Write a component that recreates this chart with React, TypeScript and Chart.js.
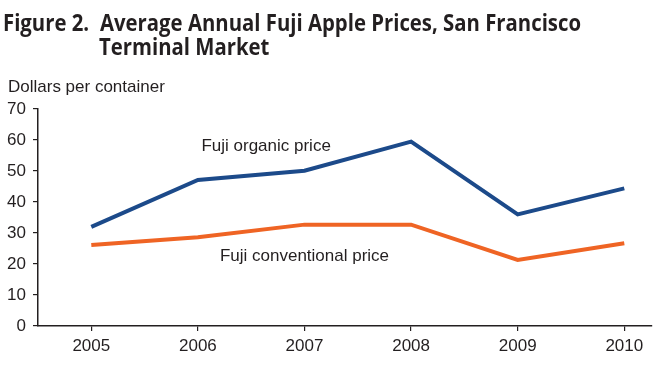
import React, { useEffect, useRef } from "react";
import { Chart, registerables } from "chart.js";

Chart.register(...registerables);

const years = [2005, 2006, 2007, 2008, 2009, 2010];
const organicPrice = [32.0, 47.1, 50.1, 59.5, 36.0, 44.4];
const conventionalPrice = [26.1, 28.6, 32.7, 32.7, 21.3, 26.7];
const yTicks = [0, 10, 20, 30, 40, 50, 60, 70];

const titleLine1a = "Figure 2.";
const titleLine1b = "Average Annual Fuji Apple Prices, San Francisco";
const titleLine2 = "Terminal Market";
const yAxisTitle = "Dollars per container";
const organicLabel = { text: "Fuji organic price", x: 2006.64, y: 58.1 };
const conventionalLabel = { text: "Fuji conventional price", x: 2007.0, y: 22.4 };

const INK = "#231f20";
const BLUE = "#1c4a8a";
const ORANGE = "#ef6424";

const textPlugin = {
  id: "textPlugin",
  afterDraw(chart: any) {
    const ctx = chart.ctx;
    const xs = chart.scales.x;
    const ys = chart.scales.y;
    ctx.save();
    // Title
    ctx.fillStyle = INK;
    ctx.textBaseline = "alphabetic";
    ctx.textAlign = "left";
    ctx.font = "bold 22.5px 'Open Sans'";
    const w1 = ctx.measureText(titleLine1b).width;
    const sx = 481 / w1;
    const drawScaled = (t: string, x: number, y: number) => {
      ctx.save();
      ctx.translate(x, y);
      ctx.scale(sx, 1);
      ctx.fillText(t, 0, 0);
      ctx.restore();
    };
    drawScaled(titleLine1a, 3, 31);
    drawScaled(titleLine1b, 100, 31);
    drawScaled(titleLine2, 99, 55);

    // Y axis title
    ctx.font = "17px 'Liberation Sans', Arial, sans-serif";
    ctx.textBaseline = "middle";
    ctx.fillText(yAxisTitle, 8, 87);

    // Series labels
    ctx.textAlign = "center";
    for (const lab of [organicLabel, conventionalLabel]) {
      ctx.fillText(lab.text, xs.getPixelForValue(lab.x), ys.getPixelForValue(lab.y));
    }
    ctx.restore();
  },
};

export default function App() {
  const ref = useRef<HTMLCanvasElement | null>(null);
  useEffect(() => {
    if (!ref.current) return;
    const chart = new Chart(ref.current, {
      type: "line",
      data: {
        datasets: [
          {
            label: "Fuji organic price",
            data: years.map((y, i) => ({ x: y, y: organicPrice[i] })),
            borderColor: BLUE,
            borderWidth: 4,
            pointRadius: 0,
            tension: 0,
            fill: false,
          },
          {
            label: "Fuji conventional price",
            data: years.map((y, i) => ({ x: y, y: conventionalPrice[i] })),
            borderColor: ORANGE,
            borderWidth: 4,
            pointRadius: 0,
            tension: 0,
            fill: false,
          },
        ],
      },
      options: {
        responsive: false,
        animation: false,
        layout: { padding: { top: 109, right: 1, left: 0, bottom: 0 } },
        plugins: {
          legend: { display: false },
          tooltip: { enabled: false },
          title: { display: false },
        },
        scales: {
          x: {
            type: "linear",
            min: 2004.5,
            max: 2010.26,
            afterBuildTicks: (scale: any) => {
              scale.ticks = years.map((v) => ({ value: v }));
            },
            afterFit: (scale: any) => {
              scale.height = 47;
            },
            ticks: {
              callback: (v: any) => String(v),
              color: INK,
              font: { family: "'Liberation Sans', Arial, sans-serif", size: 17 },
              padding: 5,
              maxRotation: 0,
            },
            grid: {
              drawOnChartArea: false,
              drawTicks: true,
              tickLength: 5,
              color: INK,
              lineWidth: 1.2,
            },
            border: { display: true, color: INK, width: 1.5 },
          },
          y: {
            min: 0,
            max: 70,
            afterBuildTicks: (scale: any) => {
              scale.ticks = yTicks.map((v) => ({ value: v }));
            },
            afterFit: (scale: any) => {
              scale.width = 38;
            },
            ticks: {
              color: INK,
              font: { family: "'Liberation Sans', Arial, sans-serif", size: 17 },
              padding: 7,
            },
            grid: {
              drawOnChartArea: false,
              drawTicks: true,
              tickLength: 5,
              color: INK,
              lineWidth: 1.2,
            },
            border: { display: true, color: INK, width: 1.5 },
          },
        },
      },
      plugins: [textPlugin],
    } as any);
    return () => chart.destroy();
  }, []);
  return (
    <div style={{ position: "absolute", left: 0, top: 0, width: 653, height: 373, background: "#fff" }}>
      <canvas ref={ref} width={653} height={373} style={{ display: "block" }} />
    </div>
  );
}
